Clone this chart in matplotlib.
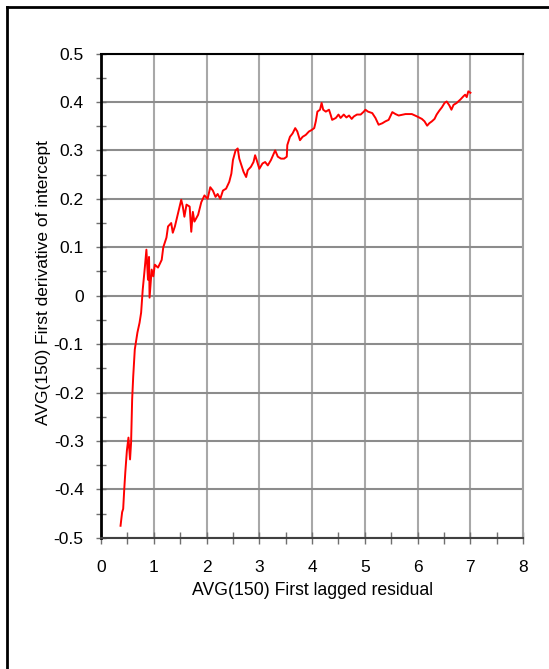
import matplotlib

matplotlib.use("Agg")
import matplotlib.pyplot as plt
from matplotlib.lines import Line2D
from matplotlib.ticker import FuncFormatter, MultipleLocator

plt.rcParams["font.family"] = ["Liberation Sans", "DejaVu Sans"]

# Values
lagged_residual = [
    0.37, 0.40, 0.42, 0.44, 0.46, 0.49, 0.52, 0.55, 0.57, 0.59, 0.61, 0.64,
    0.66, 0.69, 0.73, 0.76, 0.79, 0.83, 0.86, 0.89, 0.91, 0.92, 0.96, 0.99,
    1.02, 1.08, 1.15, 1.18, 1.24, 1.27, 1.33, 1.36, 1.40, 1.46, 1.52, 1.55,
    1.58, 1.62, 1.68, 1.71, 1.74, 1.77, 1.84, 1.90, 1.96, 2.02, 2.07, 2.12,
    2.17, 2.21, 2.26, 2.31, 2.37, 2.43, 2.47, 2.50, 2.55, 2.59, 2.62, 2.67,
    2.70, 2.75, 2.78, 2.84, 2.89, 2.92, 2.95, 3.00, 3.06, 3.11, 3.16, 3.22,
    3.26, 3.30, 3.35, 3.41, 3.47, 3.52, 3.53, 3.58, 3.63, 3.68, 3.72, 3.77,
    3.82, 3.88, 3.94, 3.99, 4.04, 4.07, 4.10, 4.15, 4.18, 4.21, 4.26, 4.32,
    4.35, 4.38, 4.45, 4.50, 4.54, 4.60, 4.65, 4.70, 4.75, 4.79, 4.85, 4.92,
    4.98, 5.01, 5.06, 5.14, 5.20, 5.26, 5.33, 5.39, 5.45, 5.52, 5.58, 5.64,
    5.77, 5.89, 5.99, 6.08, 6.13, 6.18, 6.22, 6.27, 6.32, 6.36, 6.41, 6.46,
    6.51, 6.55, 6.60, 6.64, 6.68, 6.74, 6.81, 6.87, 6.90, 6.93, 6.96, 7.00,
]
intercept_deriv = [
    -0.475, -0.447, -0.440, -0.400, -0.365, -0.320, -0.293, -0.338, -0.303,
    -0.214, -0.167, -0.111, -0.097, -0.076, -0.056, -0.035, 0.012, 0.058,
    0.095, 0.033, 0.080, -0.004, 0.054, 0.040, 0.064, 0.058, 0.074, 0.100,
    0.120, 0.143, 0.150, 0.130, 0.143, 0.171, 0.198, 0.184, 0.163, 0.188,
    0.184, 0.132, 0.173, 0.153, 0.167, 0.193, 0.207, 0.200, 0.224, 0.217,
    0.204, 0.210, 0.200, 0.217, 0.221, 0.235, 0.252, 0.280, 0.300, 0.304,
    0.283, 0.266, 0.256, 0.245, 0.259, 0.266, 0.276, 0.290, 0.280, 0.262,
    0.273, 0.276, 0.269, 0.280, 0.290, 0.300, 0.287, 0.283, 0.283, 0.287,
    0.311, 0.328, 0.335, 0.346, 0.339, 0.321, 0.328, 0.332, 0.339, 0.342,
    0.346, 0.360, 0.380, 0.384, 0.398, 0.384, 0.380, 0.384, 0.374, 0.363,
    0.367, 0.374, 0.367, 0.374, 0.368, 0.372, 0.365, 0.370, 0.374, 0.374,
    0.380, 0.384, 0.380, 0.377, 0.367, 0.353, 0.356, 0.360, 0.363, 0.379,
    0.375, 0.372, 0.375, 0.375, 0.370, 0.365, 0.360, 0.351, 0.356, 0.360,
    0.365, 0.374, 0.382, 0.389, 0.398, 0.401, 0.393, 0.384, 0.394, 0.398,
    0.405, 0.412, 0.415, 0.410, 0.422, 0.419,
]

fig = plt.figure(figsize=(5.49, 6.69), dpi=100)
ax = fig.add_axes([0.184, 0.196, 0.769, 0.724])

ax.plot(lagged_residual, intercept_deriv, color="#ff0000", lw=1.4, zorder=3)

ax.set_xlim(0, 8)
ax.set_ylim(-0.5, 0.5)
ax.xaxis.set_major_locator(MultipleLocator(1))
ax.xaxis.set_minor_locator(MultipleLocator(0.5))
ax.yaxis.set_major_locator(MultipleLocator(0.1))
ax.yaxis.set_minor_locator(MultipleLocator(0.05))
ax.xaxis.set_major_formatter(FuncFormatter(lambda v, _: f"{round(v, 2):g}"))
ax.yaxis.set_major_formatter(
    FuncFormatter(lambda v, _: f"{round(v, 2) + 0.0:g}")
)

# grid: horizontal lines a bit darker than vertical ones
ax.xaxis.grid(True, which="major", color="#a8a8a8", lw=1.5)
ax.yaxis.grid(True, which="major", color="#8c8c8c", lw=1.5)
ax.set_axisbelow(True)

ax.tick_params(axis="x", which="both", direction="inout", length=8, width=1,
               color="#707070", pad=12, labelsize=12.5)
ax.tick_params(axis="y", which="both", direction="inout", length=7, width=1,
               color="#707070", pad=9, labelsize=12.5)

ax.spines["left"].set_color("black")
ax.spines["left"].set_linewidth(2)
ax.spines["top"].set_color("black")
ax.spines["top"].set_linewidth(1.5)
ax.spines["bottom"].set_color("#404040")
ax.spines["bottom"].set_linewidth(1.5)
ax.spines["right"].set_color("#a0a0a0")
ax.spines["right"].set_linewidth(1.5)

ax.set_xlabel("AVG(150) First lagged residual", fontsize=12.7, labelpad=5)
ax.set_ylabel("AVG(150) First derivative of intercept", fontsize=12.5)
ax.yaxis.set_label_coords(-0.118, 0.527)

# outer frame of the picture (left and top edges)
fig.add_artist(Line2D([0.0128, 0.0128], [0.0, 0.9895], color="black", lw=2,
                      transform=fig.transFigure))
fig.add_artist(Line2D([0.0128, 1.0], [0.9895, 0.9895], color="black", lw=2,
                      transform=fig.transFigure))

fig.savefig("out.png", dpi=100)
